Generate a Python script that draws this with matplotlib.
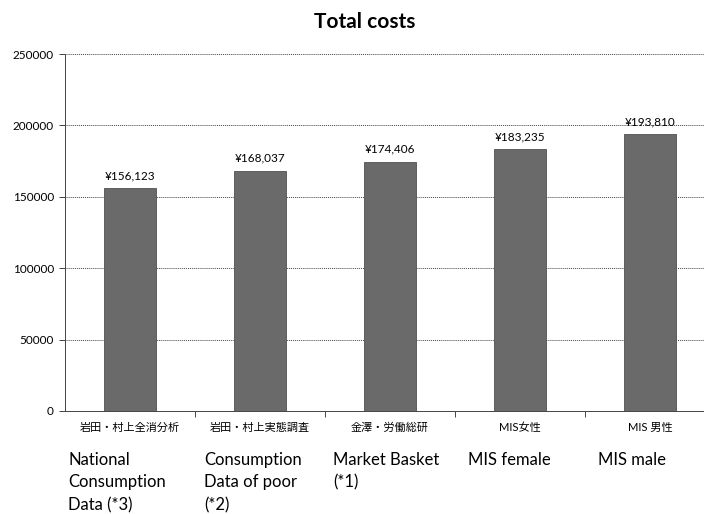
import matplotlib
matplotlib.use("Agg")
import matplotlib.pyplot as plt
import numpy as np

# data
labels_jp = ["岩田・村上全消分析", "岩田・村上実態調査", "金澤・労働総研", "MIS女性", "MIS 男性"]
labels_en = ["National\nConsumption\nData (*3)", "Consumption\nData of poor\n(*2)",
             "Market Basket\n(*1)", "MIS female", "MIS male"]
costs = [156123, 168037, 174406, 183235, 193810]
yticks = [0, 50000, 100000, 150000, 200000, 250000]

plt.rcParams["font.family"] = ["Lato", "Noto Sans CJK JP", "DejaVu Sans"]

fig = plt.figure(figsize=(7.04, 5.14), dpi=100)
ax = fig.add_axes([65 / 704, 0.2004, 650 / 704, 0.6945])

x = np.arange(len(costs))
ax.bar(x, costs, width=0.4, color="#6a6a6a", edgecolor="#505050", linewidth=0.6, zorder=3)

for xi, v in zip(x, costs):
    ax.text(xi, v + 5000, "¥{:,}".format(v), ha="center", va="bottom", fontsize=8.5)

ax.set_xlim(-0.5, 4.5)
ax.set_ylim(0, 250000)
ax.set_yticks(yticks)
ax.set_yticklabels([str(t) for t in yticks], fontsize=8.5)
ax.yaxis.grid(True, linestyle=(0, (1, 1)), color="#444444", linewidth=0.7, zorder=0)

ax.set_xticks(x)
ax.set_xticklabels(labels_jp, fontsize=8)
ax.tick_params(axis="x", length=0, pad=8)
ax.set_xticks(x[:-1] + 0.5, minor=True)
ax.tick_params(axis="x", which="minor", length=4, color="#444444", width=0.7)
ax.tick_params(axis="y", length=4, color="#444444", width=0.7, pad=4)

for side in ["top", "right"]:
    ax.spines[side].set_visible(False)
for side in ["left", "bottom"]:
    ax.spines[side].set_linestyle((0, (1, 1)))
    ax.spines[side].set_color("#444444")
    ax.spines[side].set_linewidth(0.7)

# english captions under the japanese labels
en_x = [68, 204, 333, 468, 598]
for px, txt in zip(en_x, labels_en):
    fig.text(px / 704, 1 - 452 / 514, txt, ha="left", va="top", fontsize=12,
             linespacing=1.5)

fig.text(365 / 704, 1 - 22 / 514, "Total costs", ha="center", va="center",
         fontsize=15, fontweight="bold")

fig.savefig("out.png", dpi=100)
